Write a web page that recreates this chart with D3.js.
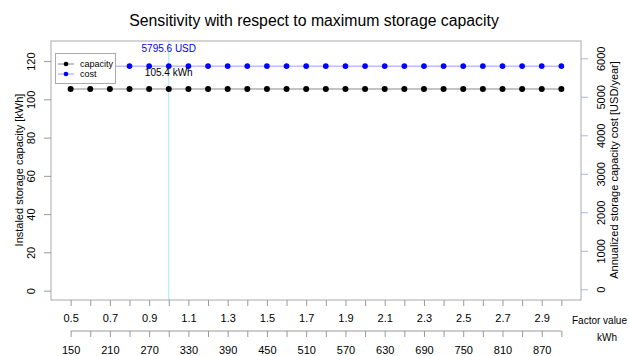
<!DOCTYPE html>
<html><head><meta charset="utf-8">
<script src="https://cdn.jsdelivr.net/npm/d3@7"></script>
<style>body{margin:0;background:#fff}svg{display:block;font-family:"Liberation Sans",Arial,sans-serif}</style>
</head><body><svg id="c" width="629" height="356"></svg>
<script>
const factors = [0.5,0.6,0.7,0.8,0.9,1.0,1.1,1.2,1.3,1.4,1.5,1.6,1.7,1.8,1.9,2.0,2.1,2.2,2.3,2.4,2.5,2.6,2.7,2.8,2.9,3.0];
const capacity = [105.4,105.4,105.4,105.4,105.4,105.4,105.4,105.4,105.4,105.4,105.4,105.4,105.4,105.4,105.4,105.4,105.4,105.4,105.4,105.4,105.4,105.4,105.4,105.4,105.4,105.4];
const cost = [5795.6,5795.6,5795.6,5795.6,5795.6,5795.6,5795.6,5795.6,5795.6,5795.6,5795.6,5795.6,5795.6,5795.6,5795.6,5795.6,5795.6,5795.6,5795.6,5795.6,5795.6,5795.6,5795.6,5795.6,5795.6,5795.6];
const kwhTicks = [150,180,210,240,270,300,330,360,390,420,450,480,510,540,570,600,630,660,690,720,750,780,810,840,870,900];
const factorLabels = [0.5,0.7,0.9,1.1,1.3,1.5,1.7,1.9,2.1,2.3,2.5,2.7,2.9];
const kwhLabels = [150,210,270,330,390,450,510,570,630,690,750,810,870];
const leftTicks = [0,20,40,60,80,100,120];
const rightTicks = [0,1000,2000,3000,4000,5000,6000];
const refFactor = 1.0, refCap = 105.4, refCost = 5795.6;

const svg = d3.select("#c");
const L=51,R=581,T=41,B=300;
const x = d3.scaleLinear().domain([0.4,3.1]).range([L,R]);
const xk = d3.scaleLinear().domain([120,930]).range([L,R]);
const yL = d3.scaleLinear().domain([-4.9,130.5]).range([B,T]);
const yR = d3.scaleLinear().domain([-278,6449]).range([B,T]);
const grey="#999";

svg.append("text").attr("x",314).attr("y",26).attr("text-anchor","middle").attr("font-size",15.8).text("Sensitivity with respect to maximum storage capacity");

// reference vertical line
svg.append("line").attr("x1",x(refFactor)).attr("x2",x(refFactor)).attr("y1",T).attr("y2",B).attr("stroke","#a8e4f4").attr("stroke-width",1);

// lines
svg.append("path").datum(factors.map((f,i)=>[f,capacity[i]])).attr("fill","none").attr("stroke","#888").attr("stroke-width",1)
  .attr("d",d3.line().x(d=>x(d[0])).y(d=>yL(d[1])));
svg.append("path").datum(factors.map((f,i)=>[f,cost[i]])).attr("fill","none").attr("stroke","#9d9dff").attr("stroke-width",1)
  .attr("d",d3.line().x(d=>x(d[0])).y(d=>yR(d[1])));
svg.selectAll(".pc").data(factors).join("circle").attr("cx",d=>x(d)).attr("cy",(d,i)=>yL(capacity[i])).attr("r",3).attr("fill","#000");
svg.selectAll(".pb").data(factors).join("circle").attr("cx",d=>x(d)).attr("cy",(d,i)=>yR(cost[i])).attr("r",2.8).attr("fill","#0000ff");

// box
svg.append("rect").attr("x",L).attr("y",T).attr("width",R-L).attr("height",B-T).attr("fill","none").attr("stroke","#aaa");

// annotations
svg.append("text").attr("x",x(refFactor)).attr("y",51.5).attr("text-anchor","middle").attr("font-size",10).attr("fill","#0000ff").text(refCost+" USD");
svg.append("text").attr("x",x(refFactor)).attr("y",75.5).attr("text-anchor","middle").attr("font-size",10).attr("fill","#000").text(refCap+" kWh");

// left axis
const gl = svg.append("g").attr("transform",`translate(${L},0)`);
gl.call(d3.axisLeft(yL).tickValues(leftTicks).tickSize(7).tickPadding(3).tickFormat(d3.format("d")));
gl.select(".domain").remove();
gl.selectAll(".tick line").attr("stroke",grey);
gl.selectAll(".tick text").attr("transform","rotate(-90)").attr("x",0).attr("dy",0).attr("y",-16).attr("text-anchor","middle").attr("font-size",11).attr("font-family","Liberation Sans, Arial, sans-serif").attr("fill","#000");
svg.append("text").attr("transform","translate(23,170) rotate(-90)").attr("text-anchor","middle").attr("font-size",11).text("Instaled storage capacity [kWh]");

// right axis
const gr = svg.append("g").attr("transform",`translate(${R},0)`);
gr.call(d3.axisRight(yR).tickValues(rightTicks).tickSize(7).tickFormat(d3.format("d")));
gr.select(".domain").remove();
gr.selectAll(".tick line").attr("stroke","#aab0ee");
gr.selectAll(".tick text").attr("transform","rotate(-90)").attr("x",0).attr("dy",0).attr("y",24).attr("text-anchor","middle").attr("font-size",11).attr("font-family","Liberation Sans, Arial, sans-serif").attr("fill","#000");
svg.append("text").attr("transform","translate(618,170) rotate(-90)").attr("text-anchor","middle").attr("font-size",11).text("Annualized storage capacity cost [USD/year]");

// bottom axis 1: factor
const gb = svg.append("g").attr("transform",`translate(0,${B})`);
gb.call(d3.axisBottom(x).tickValues(factors).tickSize(6).tickFormat(d=>factorLabels.some(v=>Math.abs(v-d)<1e-9)?d3.format(".1f")(d):""));
gb.select(".domain").remove();
gb.selectAll(".tick line").attr("stroke",grey);
gb.selectAll(".tick text").attr("y",14).attr("dy","0.71em").attr("font-size",11).attr("font-family","Liberation Sans, Arial, sans-serif").attr("fill","#000");
svg.append("text").attr("x",627).attr("y",324).attr("text-anchor","end").attr("font-size",10).text("Factor value");

// bottom axis 2: kWh
const gk = svg.append("g").attr("transform",`translate(0,331)`);
gk.call(d3.axisBottom(xk).tickValues(kwhTicks).tickSize(6).tickSizeOuter(0).tickFormat(d=>kwhLabels.includes(d)?d:""));
gk.select(".domain").attr("stroke",grey).attr("d",`M${xk(kwhTicks[0])},0H${xk(kwhTicks[kwhTicks.length-1])}`);
gk.selectAll(".tick line").attr("stroke",grey);
gk.selectAll(".tick text").attr("y",15).attr("dy","0.71em").attr("font-size",11).attr("font-family","Liberation Sans, Arial, sans-serif").attr("fill","#000");
svg.append("text").attr("x",597).attr("y",341).attr("font-size",10).text("kWh");

// legend
const lg = svg.append("g");
lg.append("rect").attr("x",55.5).attr("y",53.5).attr("width",60).attr("height",30).attr("fill","#fff").attr("stroke","#aaa");
const items=[["capacity","#888","#000",64],["cost","#9d9dff","#0000ff",74]];
items.forEach(([t,lc,pc,yy])=>{
  lg.append("line").attr("x1",58).attr("x2",74).attr("y1",yy).attr("y2",yy).attr("stroke",lc);
  lg.append("circle").attr("cx",66).attr("cy",yy).attr("r",2.3).attr("fill",pc);
  lg.append("text").attr("x",80).attr("y",yy+3).attr("font-size",9).text(t);
});
</script></body></html>
